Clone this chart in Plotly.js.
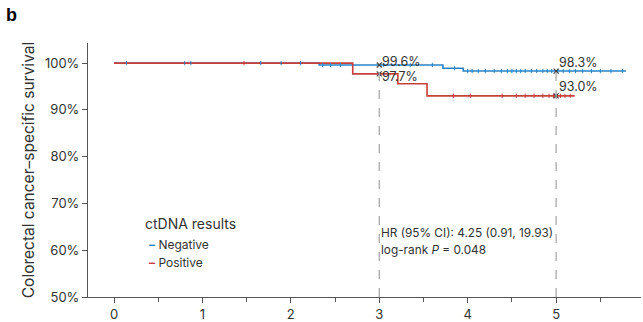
<!DOCTYPE html>
<html><head><meta charset="utf-8">
<script src="https://cdn.plot.ly/plotly-3.0.1.min.js"></script>
<style>body{margin:0;padding:0;background:#fff}#plot{width:643px;height:322px}</style>
</head><body><div id="plot"></div>
<script>
// Kaplan–Meier step data (years, survival %)
const negTime = [0, 2.32, 3.72, 3.95, 5.79];
const negSurv = [100, 99.6, 98.9, 98.3, 98.3];
const posTime = [0, 2.70, 3.21, 3.54, 5.21];
const posSurv = [100, 97.7, 95.6, 93.0, 93.0];
// censoring times
const negCensor = [0.14, 0.80, 0.87, 1.66, 1.89, 2.11, 2.36, 2.45, 2.56, 3.05, 3.35, 3.6, 3.85, 4.0, 4.05, 4.12, 4.2, 4.3, 4.38, 4.45, 4.5, 4.55, 4.6, 4.65, 4.72, 4.78, 4.85, 4.9, 4.95, 5.02, 5.08, 5.15, 5.22, 5.3, 5.4, 5.5, 5.62, 5.75];
const posCensor = [1.47, 3.84, 4.03, 4.39, 4.55, 4.65, 4.75, 4.85, 4.92, 4.97, 5.0, 5.05, 5.1, 5.16];
// milestone estimates
const markTime = [3, 3, 5, 5];
const markSurv = [99.6, 97.7, 98.3, 93.0];
const markLabel = ['99.6%', '97.7%', '98.3%', '93.0%'];
const xTicks = [0, 1, 2, 3, 4, 5];
const yTicks = [50, 60, 70, 80, 90, 100];
const yTickText = ['50%', '60%', '70%', '80%', '90%', '100%'];
const groups = ['Negative', 'Positive'];

const blue = '#2a82c6', red = '#c8403c';
const FONT = 'Inter, Roboto, sans-serif';
const labelShift = [3, -3, 9, 9];

function survAt(t, T, S) { let s = S[0]; for (let i = 0; i < T.length; i++) { if (T[i] <= t) s = S[i]; } return s; }

const traces = [
  {x: negTime, y: negSurv, mode: 'lines', line: {shape: 'hv', color: blue, width: 1.6}, name: groups[0], showlegend: false},
  {x: posTime, y: posSurv, mode: 'lines', line: {shape: 'hv', color: red, width: 1.6}, name: groups[1], showlegend: false},
  {x: negCensor, y: negCensor.map(t => survAt(t, negTime, negSurv)), mode: 'markers', marker: {symbol: 'line-ns', size: 3, line: {color: blue, width: 1}}, showlegend: false},
  {x: posCensor, y: posCensor.map(t => survAt(t, posTime, posSurv)), mode: 'markers', marker: {symbol: 'line-ns', size: 3, line: {color: red, width: 1}}, showlegend: false},
  {x: markTime, y: markSurv, mode: 'markers', marker: {symbol: 'x-thin', size: 5, line: {color: '#444', width: 1.2}}, showlegend: false, cliponaxis: false}
];

const shapes = [3, 5].map((x, i) => ({type: 'line', xref: 'x', yref: 'y', x0: x, x1: x, y0: 50, y1: [99.6, 98.3][i], line: {color: '#aaa', width: 1.3, dash: 'dash'}}));

const markAnn = markLabel.map((t, i) => ({xref: 'x', yref: 'y', x: markTime[i], y: markSurv[i], xanchor: 'left', yanchor: 'middle',
  xshift: 1, yshift: labelShift[i], showarrow: false, text: t, font: {size: 12.5, color: '#333', family: FONT}}));

const legendColors = [blue, red];
const legendAnn = groups.map((g, i) => ({xref: 'paper', yref: 'paper', x: 0.106, y: 0.208 - i * 0.071, xanchor: 'left', yanchor: 'middle', showarrow: false,
  text: '<b style="color:' + legendColors[i] + '">\u2013</b> ' + g, font: {size: 12, color: '#333', family: FONT}}));

const layout = {
  width: 643, height: 322,
  margin: {l: 88, r: 2, t: 43, b: 25},
  paper_bgcolor: '#fff', plot_bgcolor: '#fff',
  font: {family: FONT, color: '#333', size: 12},
  showlegend: false,
  xaxis: {range: [-0.294, 5.96], tickvals: xTicks, ticks: 'outside', ticklen: 5, tickcolor: '#555',
    showline: true, linecolor: '#555', linewidth: 1, showgrid: false, zeroline: false,
    tickfont: {size: 13, color: '#333'},
    minor: {dtick: 0.5, tick0: 0, ticks: 'outside', ticklen: 4, tickcolor: '#555', showgrid: false}},
  yaxis: {range: [50, 104.3], tickvals: yTicks, ticktext: yTickText, ticks: 'outside', ticklen: 5, tickcolor: '#555',
    showline: true, linecolor: '#555', linewidth: 1, showgrid: false, zeroline: false,
    tickfont: {size: 13, color: '#333'},
    title: {text: 'Colorectal cancer\u2013specific survival', font: {size: 15.5, color: '#333'}, standoff: 6}},
  shapes: shapes,
  annotations: [
    {xref: 'paper', yref: 'paper', x: -0.152, y: 1.157, xanchor: 'left', yanchor: 'top', text: '<b>b</b>', showarrow: false, font: {size: 18, color: '#000', family: 'Liberation Sans, Arial, sans-serif'}},
    {xref: 'paper', yref: 'paper', x: 0.1, y: 0.29, xanchor: 'left', yanchor: 'middle', text: 'ctDNA results', showarrow: false, font: {size: 14, color: '#333', family: FONT}},
    ...legendAnn,
    ...markAnn,
    {xref: 'x', yref: 'paper', x: 3.0, y: 0.252, xanchor: 'left', yanchor: 'middle', text: 'HR (95% CI): 4.25 (0.91, 19.93)', showarrow: false, font: {size: 11.8, color: '#333'}},
    {xref: 'x', yref: 'paper', x: 3.0, y: 0.185, xanchor: 'left', yanchor: 'middle', text: 'log-rank <i>P</i> = 0.048', showarrow: false, font: {size: 11.8, color: '#333'}}
  ]
};

Plotly.newPlot('plot', traces, layout, {displayModeBar: false, staticPlot: true});
</script></body></html>
